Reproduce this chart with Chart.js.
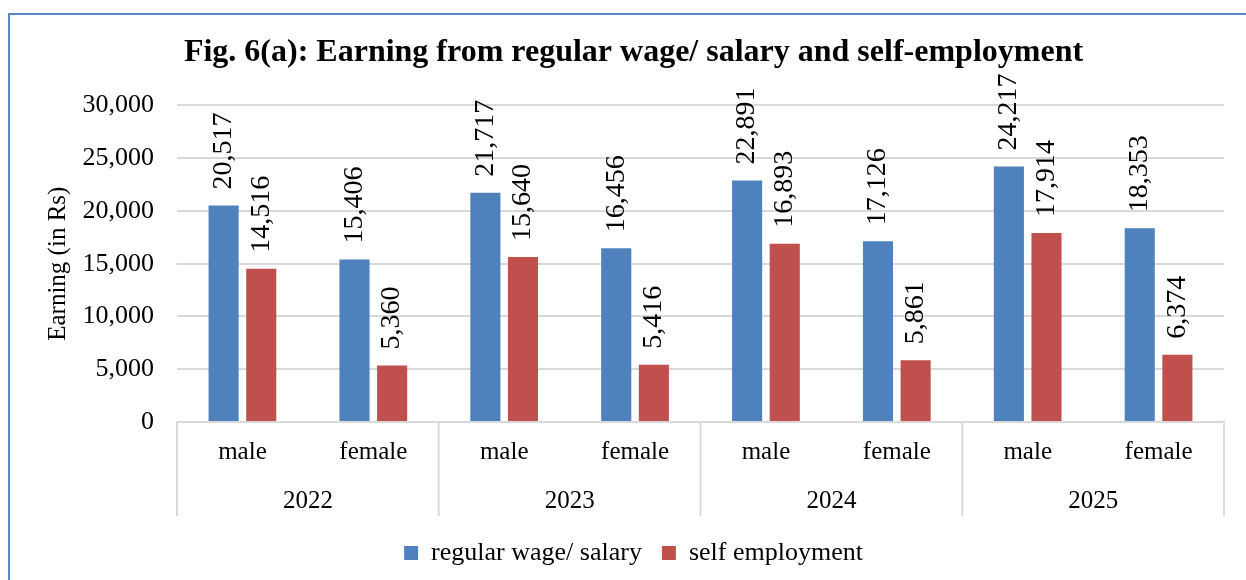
<!DOCTYPE html>
<html>
<head>
<meta charset="utf-8">
<script src="https://cdn.jsdelivr.net/npm/chart.js@4.4.1/dist/chart.umd.min.js"></script>
<style>
  body { margin: 0; background: #fff; overflow: hidden; }
  #wrap { position: relative; width: 1246px; height: 580px; }
  #frame { position: absolute; left: 8px; top: 13px; width: 1260px; height: 600px; border: 2px solid #5b87c5; box-sizing: border-box; pointer-events: none; }
  canvas { position: absolute; left: 0; top: 0; }
</style>
</head>
<body>
<div id="wrap">
  <div id="frame"></div>
  <canvas id="earningChart" width="1246" height="580"></canvas>
</div>
<script>
// data
const genderLabels = ['male', 'female', 'male', 'female', 'male', 'female', 'male', 'female'];
const yearLabels = ['2022', '2023', '2024', '2025'];
const regularWage = [20517, 15406, 21717, 16456, 22891, 17126, 24217, 18353];
const selfEmployment = [14516, 5360, 15640, 5416, 16893, 5861, 17914, 6374];

const FONT = '"Liberation Serif", "Times New Roman", serif';
const fmt = (v) => v.toLocaleString('en-US');

// value labels, rotated, above each bar
const barLabels = {
    id: 'barLabels',
    afterDatasetsDraw(chart) {
        const ctx = chart.ctx;
        ctx.save();
        ctx.font = '28px ' + FONT;
        ctx.fillStyle = '#000';
        chart.data.datasets.forEach((ds, di) => {
            chart.getDatasetMeta(di).data.forEach((bar, i) => {
                ctx.save();
                ctx.translate(bar.x, bar.y - 16);
                ctx.rotate(-Math.PI / 2);
                ctx.textAlign = 'left';
                ctx.textBaseline = 'middle';
                ctx.fillText(fmt(ds.data[i]), 0, 0);
                ctx.restore();
            });
        });
        ctx.restore();
    }
};

// vertical separators between years under the axis
const yearDividers = {
    id: 'yearDividers',
    afterDraw(chart) {
        const x = chart.scales.x, x2 = chart.scales.x2;
        const ctx = chart.ctx;
        const n = genderLabels.length;
        const per = n / yearLabels.length;
        ctx.save();
        ctx.strokeStyle = '#d9d9d9';
        ctx.lineWidth = 2;
        for (let k = 0; k <= yearLabels.length; k++) {
            const i = k * per;
            let px;
            if (i === 0) px = x.left;
            else if (i === n) px = x.right;
            else px = (x.getPixelForValue(i - 1) + x.getPixelForValue(i)) / 2;
            ctx.beginPath();
            ctx.moveTo(px, x.top);
            ctx.lineTo(px, x2.bottom - 4);
            ctx.stroke();
        }
        ctx.restore();
    }
};

const ctx = document.getElementById('earningChart').getContext('2d');
new Chart(ctx, {
    type: 'bar',
    data: {
        labels: genderLabels,
        datasets: [
            {
                label: 'regular wage/ salary',
                data: regularWage,
                backgroundColor: '#4f81bd',
                categoryPercentage: 0.575,
                barPercentage: 0.8
            },
            {
                label: 'self employment',
                data: selfEmployment,
                backgroundColor: '#c0504d',
                categoryPercentage: 0.575,
                barPercentage: 0.8
            }
        ]
    },
    options: {
        responsive: false,
        animation: false,
        layout: { padding: { left: 43, right: 22, top: 34, bottom: 4 } },
        plugins: {
            title: {
                display: true,
                text: 'Fig. 6(a): Earning from regular wage/ salary and self-employment',
                color: '#000',
                font: { family: FONT, size: 32, weight: 'bold' },
                padding: { top: 0, bottom: 33 }
            },
            legend: {
                position: 'bottom',
                labels: {
                    color: '#000',
                    font: { family: FONT, size: 26 },
                    boxWidth: 14,
                    boxHeight: 14,
                    padding: 20
                }
            },
            tooltip: { enabled: false }
        },
        scales: {
            y: {
                min: 0,
                max: 30000,
                afterFit: (scale) => { scale.width = 134; },
                ticks: {
                    stepSize: 5000,
                    color: '#000',
                    font: { family: FONT, size: 26 },
                    padding: 23,
                    callback: (v) => fmt(v)
                },
                grid: { color: '#d9d9d9', lineWidth: 2, drawTicks: false },
                border: { display: false },
                title: {
                    display: true,
                    text: 'Earning (in Rs)',
                    color: '#000',
                    font: { family: FONT, size: 25 },
                    padding: { top: 0, bottom: 0 }
                }
            },
            x: {
                grid: { display: false, drawTicks: false },
                border: { color: '#d9d9d9', width: 2 },
                ticks: {
                    color: '#000',
                    font: { family: FONT, size: 25 },
                    padding: 15,
                    maxRotation: 0,
                    autoSkip: false
                }
            },
            x2: {
                type: 'category',
                labels: yearLabels,
                position: 'bottom',
                grid: { display: false, drawTicks: false },
                border: { display: false },
                ticks: {
                    color: '#000',
                    font: { family: FONT, size: 25 },
                    padding: 4,
                    maxRotation: 0
                }
            }
        }
    },
    plugins: [barLabels, yearDividers]
});
</script>
</body>
</html>
